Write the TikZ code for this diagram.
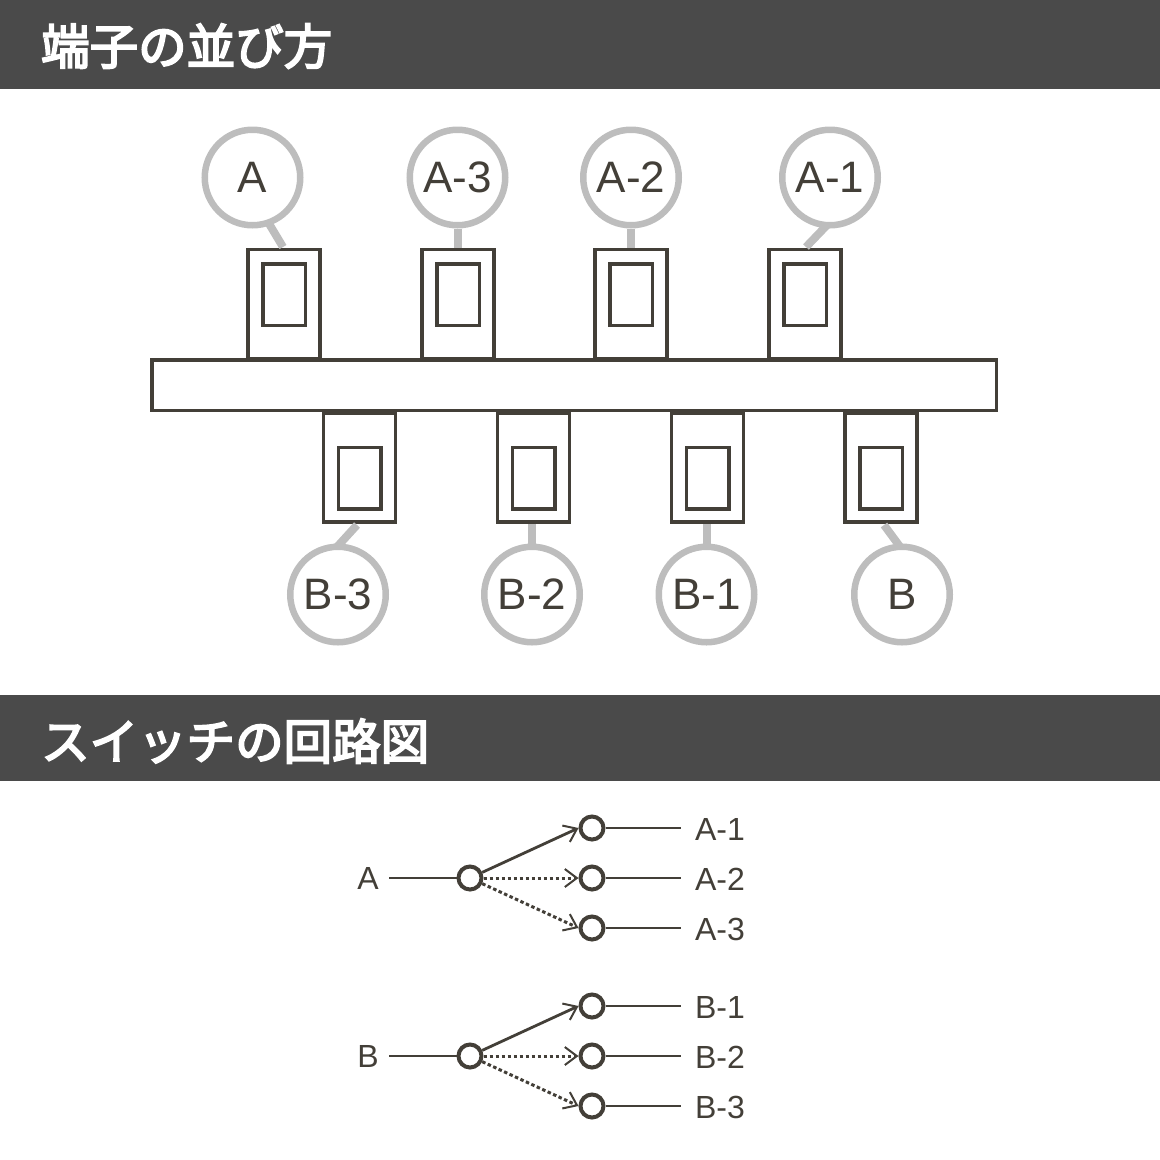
\documentclass[tikz,border=0pt]{standalone}
\usepackage{fontspec}
\setmainfont{Liberation Sans}
\newfontfamily\cjk[FakeBold=4]{Noto Sans CJK JP}
\usetikzlibrary{arrows.meta,calc}
\definecolor{ink}{HTML}{433F38}
\definecolor{band}{HTML}{4A4A4A}
\definecolor{callout}{HTML}{BDBDBD}
\tikzset{
  x=1pt,y=-1pt,
  headband/.style={fill=band,draw=none,minimum width=1160pt,inner sep=0pt,anchor=north west},
  headtext/.style={text=white,font=\cjk\fontsize{48.5}{48.5}\selectfont,anchor=west,inner sep=0pt},
  bubble/.style={circle,draw=callout,line width=6.5pt,fill=white,minimum size=95.5pt,inner sep=0pt,text=ink,font=\fontsize{44}{44}\selectfont},
  leader/.style={draw=callout,line width=8pt},
  term/.style={draw=ink,line width=3.5pt,fill=white,minimum width=72pt,minimum height=109pt,inner sep=0pt},
  win/.style={draw=ink,line width=3.5pt,fill=white,minimum width=42.5pt,minimum height=61.5pt,inner sep=0pt},
  barbox/.style={draw=ink,line width=3.5pt,fill=white,minimum width=844.5pt,minimum height=50.5pt,inner sep=0pt},
  pin/.style={circle,draw=ink,line width=4pt,fill=white,minimum size=23pt,inner sep=0pt},
  clabel/.style={text=ink,font=\fontsize{32}{32}\selectfont,inner sep=0pt},
  wire/.style={draw=ink,line width=2.8pt},
  solidarrow/.style={draw=ink,line width=2.8pt,-{Straight Barb[length=12pt,width=18pt,line width=2pt]}},
  dotarrow/.style={draw=ink,line width=3pt,dash pattern=on 3.5pt off 2.5pt,-{Straight Barb[length=12pt,width=18pt,line width=2pt]}},
}
\begin{document}
\begin{tikzpicture}
\useasboundingbox (0,0) rectangle (1160,1160);
\node[headband,minimum height=89pt] (h1) at (0,0) {};
\node[headband,minimum height=86pt] (h2) at (0,695) {};
\node[headtext] (t1) at (41,46) {端子の並び方};
\node[headtext] (t2) at (41,741) {スイッチの回路図};

% top terminals
\foreach \n/\x in {a/284,a3/458,a2/631,a1/805}{
  \node[term] (T\n) at (\x,304) {};
  \node[win] (W\n) at (\x,294.5) {};
}
% bottom terminals
\foreach \n/\x in {b3/359.5,b2/533.5,b1/707.5,b/881}{
  \node[term] (T\n) at (\x,467.5) {};
  \node[win] (W\n) at (\x,478) {};
}
\node[barbox] (bar) at (574,385) {};

% leaders, drawn first at their free ends so that the bubbles cover their start
\coordinate (Sa) at (268,222);
\coordinate (Ea) at (283,247);
\coordinate (Sa1) at (830,222);
\coordinate (Ea1) at (806,247);
\coordinate (Sb3) at (336,548);
\coordinate (Eb3) at (357,525);
\coordinate (Sb) at (901,548);
\coordinate (Eb) at (884,525);
\draw[leader] (Sa) -- (Ea);
\draw[leader] (Sa1) -- (Ea1);
\draw[leader] (Sb3) -- (Eb3);
\draw[leader] (Sb) -- (Eb);

% callouts
\node[bubble] (Ca) at (252.5,177.5) {A};
\node[bubble] (Ca3) at (457.5,177.5) {A-3};
\node[bubble] (Ca2) at (631,177.5) {A-2};
\node[bubble] (Ca1) at (830,177.5) {A-1};
\node[bubble] (Cb3) at (338,594.5) {B-3};
\node[bubble] (Cb2) at (532,594.5) {B-2};
\node[bubble] (Cb1) at (706.5,594.5) {B-1};
\node[bubble] (Cb) at (902,594.5) {B};
\draw[leader] (Ca3) -- (Ta3.north -| Ca3);
\draw[leader] (Ca2) -- (Ta2.north -| Ca2);
\draw[leader] (Cb2) -- (Tb2.south -| Cb2);
\draw[leader] (Cb1) -- (Tb1.south -| Cb1);

% circuit A
\node[clabel] (la) at (368,878) {A};
\node[pin] (ha) at (470,878) {};
\node[pin] (pa1) at (592,828) {};
\node[pin] (pa2) at (592,878) {};
\node[pin] (pa3) at (592,928) {};
\node[clabel] (lb1a) at (720,829) {A-1};
\node[clabel] (lb2a) at (720,879) {A-2};
\node[clabel] (lb3a) at (720,929) {A-3};
\coordinate (sa) at (389,878);
\draw[wire] (sa) -- (ha);
\foreach \p in {1,2,3}{
  \coordinate (ea\p) at ($(pa\p)+(89,0)$);
  \draw[wire] (pa\p) -- (ea\p);
}
\draw[solidarrow] (ha) -- (pa1.west);
\draw[dotarrow] (ha) -- (pa2.west);
\draw[dotarrow] (ha) -- (pa3.west);

% circuit B
\node[clabel] (lb) at (368,1056) {B};
\node[pin] (hb) at (470,1056) {};
\node[pin] (pb1) at (592,1006) {};
\node[pin] (pb2) at (592,1056) {};
\node[pin] (pb3) at (592,1106) {};
\node[clabel] (lb1b) at (720,1007) {B-1};
\node[clabel] (lb2b) at (720,1057) {B-2};
\node[clabel] (lb3b) at (720,1107) {B-3};
\coordinate (sb) at (389,1056);
\draw[wire] (sb) -- (hb);
\foreach \p in {1,2,3}{
  \coordinate (eb\p) at ($(pb\p)+(89,0)$);
  \draw[wire] (pb\p) -- (eb\p);
}
\draw[solidarrow] (hb) -- (pb1.west);
\draw[dotarrow] (hb) -- (pb2.west);
\draw[dotarrow] (hb) -- (pb3.west);
\end{tikzpicture}
\end{document}
